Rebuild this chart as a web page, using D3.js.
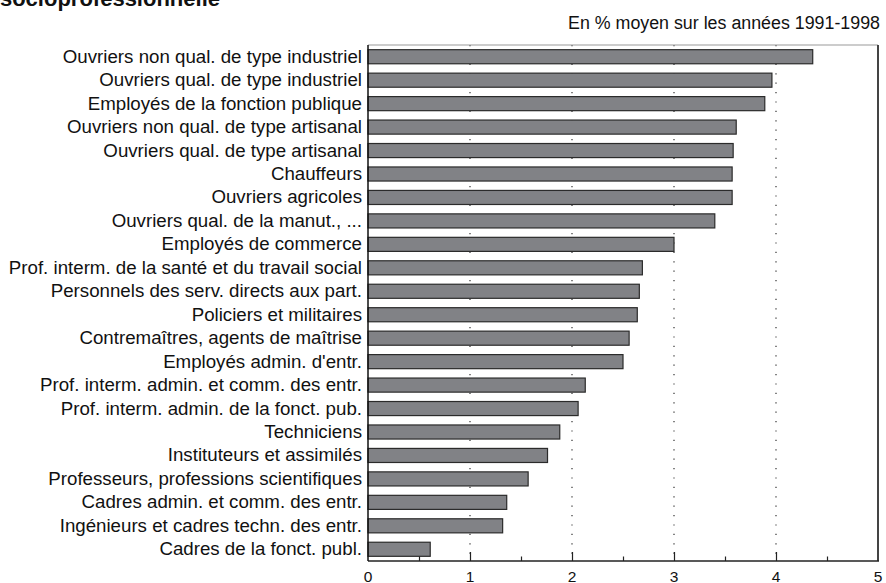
<!DOCTYPE html>
<html><head><meta charset="utf-8">
<script src="https://cdn.jsdelivr.net/npm/d3@7"></script>
<style>
body{margin:0;background:#fff;}
svg{display:block;}
</style></head>
<body>
<svg id="chart" width="886" height="583"></svg>
<script>
const categories = [
"Ouvriers non qual. de type industriel",
"Ouvriers qual. de type industriel",
"Employés de la fonction publique",
"Ouvriers non qual. de type artisanal",
"Ouvriers qual. de type artisanal",
"Chauffeurs",
"Ouvriers agricoles",
"Ouvriers qual. de la manut., ...",
"Employés de commerce",
"Prof. interm. de la santé et du travail social",
"Personnels des serv. directs aux part.",
"Policiers et militaires",
"Contremaîtres, agents de maîtrise",
"Employés admin. d'entr.",
"Prof. interm. admin. et comm. des entr.",
"Prof. interm. admin. de la fonct. pub.",
"Techniciens",
"Instituteurs et assimilés",
"Professeurs, professions scientifiques",
"Cadres admin. et comm. des entr.",
"Ingénieurs et cadres techn. des entr.",
"Cadres de la fonct. publ."
];
const values = [4.36,3.96,3.89,3.61,3.58,3.57,3.57,3.40,3.00,2.69,2.66,2.64,2.56,2.50,2.13,2.06,1.88,1.76,1.57,1.36,1.32,0.61];
const xTicks = [0,1,2,3,4,5];
const minorTicks = [0.5,1.5,2.5,3.5,4.5];
const title = "socioprofessionnelle";
const subtitle = "En % moyen sur les années 1991-1998";

const svg = d3.select("#chart");
const L = 368, R = 878, T = 45, B = 561;
const x = d3.scaleLinear().domain([0,5]).range([L,R]);
const y = d3.scaleBand().domain(categories).range([T,B]).paddingInner(0.4).paddingOuter(0.2);

// title (clipped at top)
svg.append("text").attr("x",220).attr("y",6).attr("text-anchor","end")
  .attr("font-family","Liberation Sans, Arial, sans-serif").attr("font-weight","bold")
  .attr("font-size",22).attr("fill","#111").text(title);

// subtitle
svg.append("text").attr("x",880).attr("y",29).attr("text-anchor","end")
  .attr("font-family","Liberation Sans, Arial, sans-serif")
  .attr("font-size",18).attr("fill","#111")
  .attr("textLength",312).attr("lengthAdjust","spacingAndGlyphs")
  .text(subtitle);

// grid dotted lines
svg.append("g").selectAll("line").data(xTicks.filter(d=>d>0&&d<5)).join("line")
  .attr("x1",d=>x(d)).attr("x2",d=>x(d)).attr("y1",T).attr("y2",B)
  .attr("stroke","#333").attr("stroke-width",1.2).attr("stroke-dasharray","1.2,8.2");

// bars
svg.append("g").selectAll("rect").data(values).join("rect")
  .attr("x",x(0)).attr("y",(d,i)=>y(categories[i]))
  .attr("width",d=>x(d)-x(0)).attr("height",y.bandwidth())
  .attr("fill","#818286").attr("stroke","#2b2b2b").attr("stroke-width",1.2);

// frame
svg.append("line").attr("x1",L).attr("x2",R).attr("y1",T).attr("y2",T).attr("stroke","#999").attr("stroke-width",1.2);
svg.append("line").attr("x1",R).attr("x2",R).attr("y1",T).attr("y2",B).attr("stroke","#444").attr("stroke-width",2);

// x axis
const xAxis = d3.axisBottom(x).tickValues(xTicks.filter(d=>d>0&&d<5)).tickSize(-9).tickFormat("");
const gx = svg.append("g").attr("transform",`translate(0,${B})`).call(xAxis);
gx.select(".domain").remove();
gx.selectAll(".tick line").attr("stroke","#222").attr("stroke-width",1.2);
svg.append("g").attr("transform",`translate(0,${B})`)
  .call(d3.axisBottom(x).tickValues(minorTicks).tickSize(-4.5).tickFormat(""))
  .call(g=>g.select(".domain").remove())
  .selectAll(".tick line").attr("stroke","#222").attr("stroke-width",1.2);
svg.append("g").selectAll("text").data(xTicks).join("text")
  .attr("x",d=>x(d)).attr("y",581.5).attr("text-anchor","middle")
  .attr("font-family","Liberation Sans, Arial, sans-serif")
  .attr("font-size",15.5).attr("fill","#111").text(d=>d);
svg.append("line").attr("x1",L).attr("x2",R+1).attr("y1",B).attr("y2",B).attr("stroke","#222").attr("stroke-width",1.5);

// y axis
const gy = svg.append("g").attr("transform",`translate(${L},0)`)
  .call(d3.axisLeft(y).tickSize(0).tickPadding(6));
gy.select(".domain").attr("stroke","#111").attr("stroke-width",1.5).attr("d",`M0,${T}V${B}`);
gy.selectAll("text").attr("font-family","Liberation Sans, Arial, sans-serif")
  .attr("font-size",18.7).attr("fill","#111");
</script>
</body></html>
